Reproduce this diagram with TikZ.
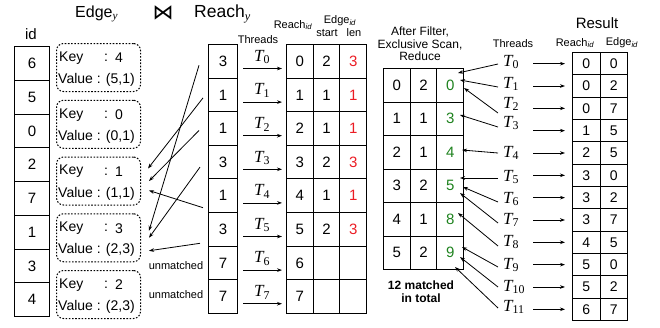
\documentclass[tikz,border=0pt]{standalone}
\usepackage{fontspec}
\setmainfont{Liberation Sans}
\newfontfamily\serif{Liberation Serif}
\newfontfamily\dejavu{DejaVu Sans}
\usetikzlibrary{arrows.meta}
\definecolor{myred}{RGB}{235,28,36}
\definecolor{mygreen}{RGB}{30,130,30}
\begin{document}
\begin{tikzpicture}[x=1pt,y=-1pt]
\useasboundingbox (0,0) rectangle (660,327);
\tikzset{
 cellbase/.style={draw, line width=1pt, inner sep=0pt, anchor=north west, font=\fontsize{15}{15}\selectfont},
 idcell/.style={cellbase, minimum width=35pt, minimum height=33.75pt},
 rcell/.style={cellbase, minimum width=29pt, minimum height=33.6pt},
 tcell/.style={cellbase, minimum width=26.7pt, minimum height=33.6pt},
 fcell/.style={cellbase, minimum width=26.7pt, minimum height=33.5pt},
 rescell/.style={cellbase, minimum width=27.5pt, minimum height=22.33pt, font=\fontsize{14}{14}\selectfont},
 ebox/.style={draw, line width=1pt, dash pattern=on 1.6pt off 1.6pt, rounded corners=7pt, minimum width=84pt, minimum height=48pt, anchor=north west, inner sep=0pt},
 etext/.style={anchor=west, inner sep=0pt, font=\fontsize{14}{14}\selectfont},
 thr/.style={font=\fontsize{17}{17}\selectfont\serif\itshape, inner sep=0pt},
 lbl/.style={font=\fontsize{11}{11}\selectfont, inner sep=0pt},
 arr/.style={-{Stealth[length=5pt,width=3.6pt]}, line width=0.8pt},
}
% titles
\node[anchor=west, inner sep=0pt, font=\fontsize{16}{16}\selectfont] (tedge) at (75,14) {Edge\textsubscript{\serif\itshape y}};
\node[inner sep=0pt, font=\fontsize{21}{21}\selectfont] (join) at (163,13) {\dejavu ⋈};
\node[anchor=west, inner sep=0pt, font=\fontsize{17.5}{17.5}\selectfont] (treach) at (194,14) {Reach\textsubscript{\serif\itshape y}};
\node[inner sep=0pt, font=\fontsize{15}{15}\selectfont] (tid) at (31,34) {id};

% id column
\foreach \v [count=\i from 0] in {6,5,0,2,7,1,3,4}
  \node[idcell] (id\i) at (14,{46+33.75*\i}) {\v};

% edge boxes
\foreach \k/\val [count=\i from 0] in {4/{(5,1)},0/{(0,1)},1/{(1,1)},3/{(2,3)},2/{(2,3)}}{
  \node[ebox] (eb\i) at (56,{43+56.75*\i}) {};
  \node[etext] (ek\i) at (59,{43+56.75*\i+15}) {Key};
  \node[inner sep=0pt, font=\fontsize{14}{14}\selectfont] (ec\i) at (106,{43+56.75*\i+15}) {:};
  \node[inner sep=0pt, font=\fontsize{14}{14}\selectfont] (ev\i) at (119,{43+56.75*\i+15}) {\k};
  \node[etext] (evl\i) at (58,{43+56.75*\i+37}) {Value : \val};
}

% reach column, threads, reach/edge table
\node[lbl] (thl) at (258,40) {Threads};
\node[lbl] (h1) at (293,25) {Reach\textsubscript{\textit{id}}};
\node[lbl] (h2) at (340,21) {Edge\textsubscript{\textit{id}}};
\node[lbl] (h3) at (327,33) {start};
\node[lbl] (h4) at (354,33) {len};
\foreach \v/\a/\b/\c [count=\i from 0] in {3/0/2/3,1/1/1/1,1/2/1/1,3/3/2/3,1/4/1/1,3/5/2/3,7/6/{}/{},7/7/{}/{}}{
  \node[rcell] (r\i) at (208,{44+33.6*\i}) {\v};
  \node[tcell] (ta\i) at (286,{44+33.6*\i}) {\a};
  \node[tcell] (tb\i) at (312.7,{44+33.6*\i}) {\b};
  \node[tcell, text=myred] (tc\i) at (339.4,{44+33.6*\i}) {\c};
  \node[thr] (lt\i) at (262,{44+33.6*\i+13}) {T\textsubscript{\upshape\i}};
  \draw[arr] ([shift={(5,7.2)}]r\i.east) -- ([shift={(-4,7.2)}]ta\i.west);
}

% crossing arrows
\draw[arr] (r0.west) ++(-9,4) -- ([shift={(8,-7)}]eb3.east);
\draw[arr] (r1.west) ++(-5,3) -- ([shift={(7,-12.5)}]eb2.east);
\draw[arr] (r2.west) ++(-9,2) -- ([shift={(8,0)}]eb2.east);
\draw[arr] (r3.west) ++(-8,5) -- ([shift={(8,0)}]eb3.east);
\draw[arr] (r4.west) ++(-5,12) -- ([shift={(8,9.5)}]eb2.east);
\draw[arr] (r5.west) ++(-8,14) -- ([shift={(8,13)}]eb3.east);
\node[lbl] (um1) at (176,266) {unmatched};
\node[lbl] (um2) at (176,295) {unmatched};

% filter table
\node[align=center, inner sep=0pt, font=\fontsize{12}{12.7}\selectfont] (fh) at (420,44) {After Filter,\\Exclusive Scan,\\Reduce};
\foreach \a/\b/\c [count=\i from 0] in {0/2/0,1/1/3,2/1/4,3/2/5,4/1/8,5/2/9}{
  \node[fcell] (fa\i) at (383,{68+33.5*\i}) {\a};
  \node[fcell] (fb\i) at (409.7,{68+33.5*\i}) {\b};
  \node[fcell, text=mygreen] (fc\i) at (436.4,{68+33.5*\i}) {\c};
}
\node[align=center, inner sep=0pt, font=\bfseries\fontsize{12}{13}\selectfont] (tot) at (421,292) {12 matched\\in total};

% right threads
\node[lbl] (thr2) at (513,44) {Threads};
\foreach \i/\ly/\sy/\ex/\ey in {0/62/64/458/73, 1/84/87/460/80, 2/104/113/464/88, 3/123/127/460/115, 4/153/153/462/150, 5/177/178/460/178, 6/199/202/463/187, 7/220/223/460/193, 8/242/246/458/213, 9/265/267/462/247, 10/287/287/460/257, 11/307/308/455/267}{
  \node[thr, anchor=west] (tr\i) at (503,\ly) {T\textsubscript{\upshape\i}};
  \coordinate (f\i) at (\ex,\ey);
  \draw[arr] (tr\i.west) ++(-5,{\sy-\ly}) -- (f\i);
}

% result table
\node[inner sep=0pt, font=\fontsize{15}{15}\selectfont] (rt) at (597,23) {Result};
\node[lbl] (rh1) at (575,43) {Reach\textsubscript{\textit{id}}};
\node[lbl] (rh2) at (622,43) {Edge\textsubscript{\textit{id}}};
\foreach \a/\b [count=\i from 0] in {0/0,0/2,0/7,1/5,2/5,3/0,3/2,3/7,4/5,5/0,5/2,6/7}{
  \node[rescell] (ra\i) at (572,{52+22.33*\i}) {\a};
  \node[rescell] (rb\i) at (599.5,{52+22.33*\i}) {\b};
  \draw[arr] ([xshift=-39pt]ra\i.west) -- ([xshift=-7pt]ra\i.west);
}
\end{tikzpicture}
\end{document}
